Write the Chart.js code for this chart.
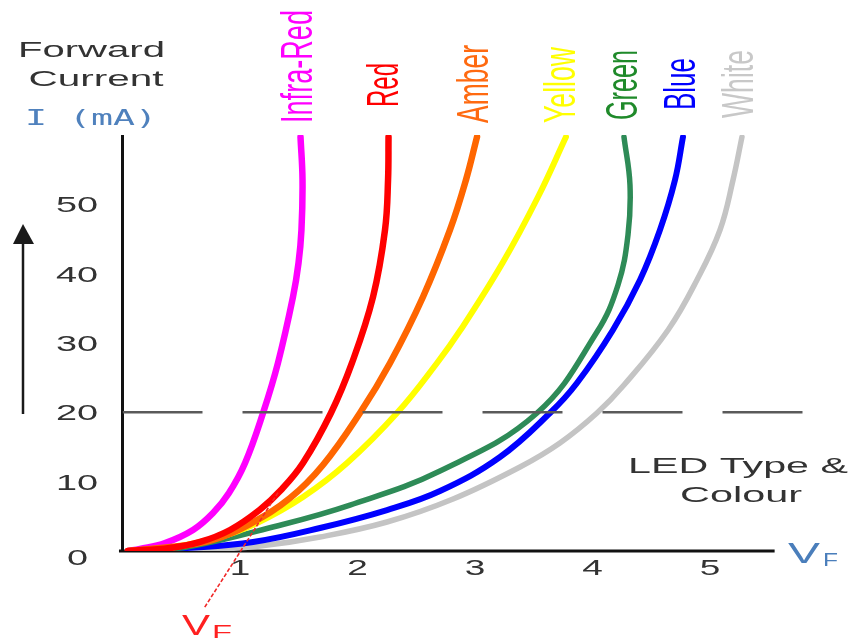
<!DOCTYPE html>
<html>
<head>
<meta charset="utf-8">
<script src="https://cdn.jsdelivr.net/npm/chart.js@4"></script>
<style>
html,body{margin:0;padding:0;background:#fff;}
#wrap{width:851px;height:640px;position:relative;}
</style>
</head>
<body>
<div id="wrap"><canvas id="c"></canvas></div>
<script>
// ---- data (forward voltage V, forward current mA) ----
const xTicks = [1, 2, 3, 4, 5];
const yTicks = [0, 10, 20, 30, 40, 50];
const refCurrent = 20;

const infraRedV = [0.047, 0.149, 0.362, 0.60, 0.77, 0.906, 1.043, 1.196, 1.323, 1.451, 1.498, 1.523, 1.532, 1.515];
const infraRedI = [0, 0.29, 1.15, 3.03, 5.48, 8.37, 12.69, 19.9, 27.12, 36.64, 41.54, 46.3, 53.51, 59.71];

const redV = [0.047, 0.404, 0.66, 0.915, 1.166, 1.349, 1.536, 1.774, 1.953, 2.132, 2.234, 2.26, 2.264];
const redI = [0, 0.43, 1.3, 3.03, 5.91, 8.8, 12.69, 19.9, 27.12, 36.64, 46.3, 53.51, 59.71];

const amberV = [0.047, 0.234, 0.489, 0.77, 1.085, 1.426, 1.706, 2.021, 2.277, 2.557, 2.787, 2.923, 3.017];
const amberI = [0, 0.29, 0.72, 1.59, 3.89, 7.64, 12.4, 19.9, 27.12, 36.64, 46.3, 53.51, 59.71];

const yellowV = [0.047, 0.404, 0.83, 1.145, 1.536, 1.911, 2.336, 2.677, 2.877, 3.234, 3.536, 3.774];
const yellowI = [0, 0.43, 2.02, 4.04, 7.79, 12.69, 19.9, 27.12, 31.88, 41.54, 51.06, 59.71];

const greenV = [0.047, 0.549, 1.315, 1.936, 2.702, 3.528, 4.038, 4.217, 4.302, 4.319, 4.268];
const greenI = [0, 0.58, 3.61, 6.63, 11.54, 19.9, 31.59, 38.37, 45.58, 52.79, 59.71];

const blueV = [0.047, 0.549, 1.111, 1.681, 2.251, 2.702, 3.213, 3.638, 3.868, 4.174, 4.404, 4.574, 4.702, 4.77];
const blueI = [0, 0.43, 1.3, 3.32, 5.91, 8.65, 13.56, 19.9, 24.23, 31.88, 39.09, 46.3, 53.51, 59.71];

const whiteV = [0.098, 0.66, 1.17, 1.681, 2.251, 2.813, 3.383, 3.723, 4.038, 4.268, 4.643, 4.889, 5.085, 5.196, 5.272];
const whiteI = [0, 0.14, 0.72, 2.02, 4.18, 7.5, 12.12, 15.58, 19.9, 23.94, 31.88, 39.09, 46.3, 53.51, 59.71];

const vfTangentV = [0.70, 1.33];
const vfTangentI = [-8.1, 8.6];

const refLineV = [0, 5.8];

const zip = (xs, ys) => xs.map((x, i) => ({x: x, y: ys[i]}));

function curve(label, v, i, color, width, order) {
  return {
    label: label, data: zip(v, i), borderColor: color, borderWidth: width,
    tension: 0.4,
    pointRadius: 0, borderCapStyle: 'round', borderJoinStyle: 'round',
    fill: false, order: order
  };
}

const datasets = [
  {label: 'ref', data: refLineV.map(v => ({x: v, y: refCurrent})), borderColor: '#5a5a5a',
   borderWidth: 2.5, borderDash: [80, 40], pointRadius: 0, tension: 0, order: 0},
  {label: 'vf', data: zip(vfTangentV, vfTangentI), borderColor: '#f02828', borderWidth: 1.6,
   borderDash: [4, 2], pointRadius: 0, tension: 0, order: 1, clip: false},
  curve('Red', redV, redI, '#ff0000', 6.5, 2),
  curve('Amber', amberV, amberI, '#ff6600', 6.5, 3),
  curve('Infra-Red', infraRedV, infraRedI, '#ff00ff', 6.5, 4),
  curve('Yellow', yellowV, yellowI, '#ffff00', 6, 5),
  curve('Green', greenV, greenI, '#2e8b57', 5.5, 6),
  curve('Blue', blueV, blueI, '#0000ff', 6, 7),
  curve('White', whiteV, whiteI, '#c4c4c4', 5.5, 8)
];

const seriesLabels = [
  {t: 'Infra-Red', c: '#ff00ff', x: 312, y: 123, len: 113},
  {t: 'Red', c: '#ff0000', x: 398, y: 107, len: 44},
  {t: 'Amber', c: '#ff6a10', x: 488, y: 123, len: 78},
  {t: 'Yellow', c: '#ffff00', x: 575, y: 123, len: 76},
  {t: 'Green', c: '#1f8a2a', x: 637, y: 120, len: 70},
  {t: 'Blue', c: '#0000ff', x: 695, y: 110, len: 52},
  {t: 'White', c: '#c8c8c8', x: 753, y: 118, len: 68}
];

function txt(ctx, s, x, y, o) {
  ctx.save();
  ctx.translate(x, y);
  if (o.rot) ctx.rotate(-Math.PI / 2);
  ctx.font = o.font;
  ctx.fillStyle = o.color;
  ctx.textAlign = o.align || 'left';
  ctx.textBaseline = 'alphabetic';
  const m = ctx.measureText(s).width;
  const sa = o.len ? o.len / m : (o.sa || 1);
  ctx.scale(sa, o.sp || 1);
  ctx.fillText(s, 0, 0);
  ctx.restore();
}

const decor = {
  id: 'decor',
  beforeDatasetsDraw(chart) {
    const ctx = chart.ctx, xs = chart.scales.x, ys = chart.scales.y;
    const x0 = xs.getPixelForValue(0), y0 = ys.getPixelForValue(0);
    ctx.save();
    ctx.strokeStyle = '#111';
    ctx.lineWidth = 3;
    ctx.beginPath();
    ctx.moveTo(x0, ys.getPixelForValue(60));
    ctx.lineTo(x0, y0 + 1.5);
    ctx.moveTo(xs.getPixelForValue(-0.03), y0);
    ctx.lineTo(xs.getPixelForValue(5.55), y0);
    ctx.stroke();
    ctx.restore();
  },
  afterDraw(chart) {
    const ctx = chart.ctx, xs = chart.scales.x, ys = chart.scales.y;
    const dark = '#333';
    const tickFont = '22px "Liberation Sans", Arial, sans-serif';
    yTicks.forEach(v => {
      const py = ys.getPixelForValue(v);
      if (v === 0) txt(ctx, String(v), 88, py + 14, {font: tickFont, color: dark, align: 'right', sa: 1.72});
      else txt(ctx, String(v), 98, py + 8, {font: tickFont, color: dark, align: 'right', sa: 1.72});
    });
    xTicks.forEach(v => {
      txt(ctx, String(v), xs.getPixelForValue(v), 575, {font: tickFont, color: dark, align: 'center', sa: 1.68});
    });
    const lf = '22px "Liberation Sans", Arial, sans-serif';
    txt(ctx, 'Forward', 91.5, 57, {font: lf, color: dark, align: 'center', len: 147});
    txt(ctx, 'Current', 96, 86, {font: lf, color: dark, align: 'center', len: 135});
    txt(ctx, 'I (mA)', 91, 125, {font: '21px "DejaVu Sans Mono", monospace', color: '#4f81bd', align: 'center', len: 132});
    txt(ctx, 'LED Type &', 738, 473, {font: lf, color: dark, align: 'center', len: 220});
    txt(ctx, 'Colour', 741, 502, {font: lf, color: dark, align: 'center', len: 122});
    // V_F labels
    txt(ctx, 'V', 788, 563, {font: '30px "Liberation Sans", Arial, sans-serif', color: '#4a7ebb', len: 32});
    txt(ctx, 'F', 823, 566, {font: '18px "Liberation Sans", Arial, sans-serif', color: '#4a7ebb', len: 15});
    txt(ctx, 'V', 182, 635, {font: '30px "Liberation Sans", Arial, sans-serif', color: '#ff2020', len: 28});
    txt(ctx, 'F', 212, 638, {font: '18px "Liberation Sans", Arial, sans-serif', color: '#ff2020', len: 20});
    // rotated series labels
    seriesLabels.forEach(l => {
      txt(ctx, l.t, l.x, l.y, {font: '25px "Liberation Sans", Arial, sans-serif', color: l.c, rot: true, len: l.len, sp: 1.8});
    });
    // arrow
    ctx.save();
    ctx.strokeStyle = '#1a1a1a';
    ctx.fillStyle = '#1a1a1a';
    ctx.lineWidth = 2.5;
    ctx.beginPath();
    ctx.moveTo(23, 414);
    ctx.lineTo(23, 240);
    ctx.stroke();
    ctx.beginPath();
    ctx.moveTo(23, 224);
    ctx.lineTo(13, 244);
    ctx.lineTo(34, 244);
    ctx.closePath();
    ctx.fill();
    ctx.restore();
  }
};

new Chart(document.getElementById('c'), {
  type: 'line',
  data: {datasets: datasets},
  options: {
    responsive: true,
    maintainAspectRatio: false,
    animation: false,
    devicePixelRatio: 1,
    layout: {padding: {left: 122.5, right: 23.5, top: 135, bottom: 89}},
    plugins: {legend: {display: false}, tooltip: {enabled: false}},
    scales: {
      x: {type: 'linear', min: 0, max: 6, display: false},
      y: {type: 'linear', min: 0, max: 60, display: false}
    }
  },
  plugins: [decor]
});
</script>
</body>
</html>
